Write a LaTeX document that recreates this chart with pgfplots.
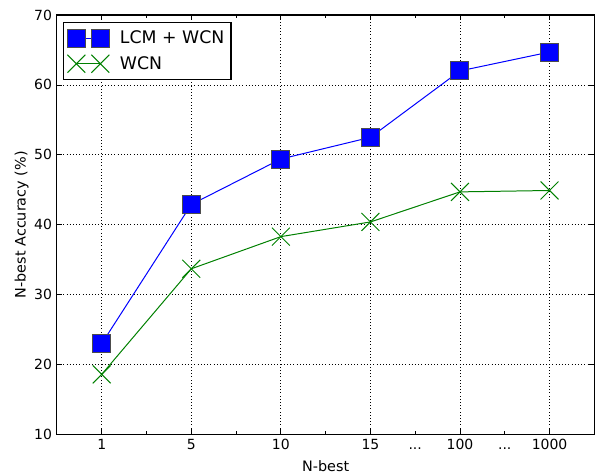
\documentclass[border=0pt]{standalone}
\usepackage{fontspec}
\setmainfont{DejaVu Sans}
\usepackage{pgfplots}
\pgfplotsset{compat=1.18}
\def\threedots{\vphantom{1}...}
\begin{document}
\fontsize{10.5}{12.5}\selectfont
\begin{tikzpicture}
\path[use as bounding box] (-42.75pt,-29.25pt) rectangle (404pt,326.25pt);
\begin{axis}[
  scale only axis,
  width=403.5pt, height=315pt,
  xmin=-0.5, xmax=5.5, ymin=10, ymax=70,
  xtick={0,1,2,3,4,5},
  xticklabels={1,5,10,15,100,1000},
  minor xtick={0.5,1.5,2.5,3.5,4.5},
  extra x ticks={3.5,4.5},
  extra x tick labels={\threedots,\threedots},
  extra x tick style={grid=none, major tick length=2.5pt},
  ytick={10,20,30,40,50,60,70},
  tick align=inside,
  major tick length=4pt, minor tick length=2.5pt,
  tick style={black, line width=0.6pt},
  xmajorgrids, ymajorgrids,
  grid style={black, dotted, line width=0.6pt},
  axis line style={line width=0.8pt},
  /pgf/number format/assume math mode=true,
  tick label style={font=\fontsize{10.5}{12.5}\selectfont},
  label style={font=\fontsize{10.8}{13}\selectfont},
  xlabel={N-best},
  ylabel={N-best Accuracy (\%)},
  xlabel style={yshift=-0.5pt},
  ylabel style={yshift=-3pt},
  legend style={draw=black, line width=0.8pt, font=\fontsize{13}{15}\selectfont,
    inner xsep=3pt, inner ysep=4pt, row sep=4pt,
    /tikz/every odd column/.append style={column sep=6pt},
    at={(0.011,0.983)}, anchor=north west},
  legend cell align=left,
  legend image code/.code={\draw[#1] plot coordinates {(0pt,0pt) (18pt,0pt)};},
]
\addplot[blue, line width=0.75pt, mark=square*, mark size=6.75pt, mark options={fill=blue, draw=black!70, line width=0.75pt}]
  coordinates {(0,23.0) (1,42.9) (2,49.4) (3,52.5) (4,62.0) (5,64.7)};
\addlegendentry{LCM + WCN}
\addplot[green!50!black, line width=0.75pt, mark=x, mark size=9.5pt, mark options={line width=0.75pt}]
  coordinates {(0,18.6) (1,33.7) (2,38.3) (3,40.4) (4,44.7) (5,44.9)};
\addlegendentry{WCN}
\end{axis}
\end{tikzpicture}
\end{document}
